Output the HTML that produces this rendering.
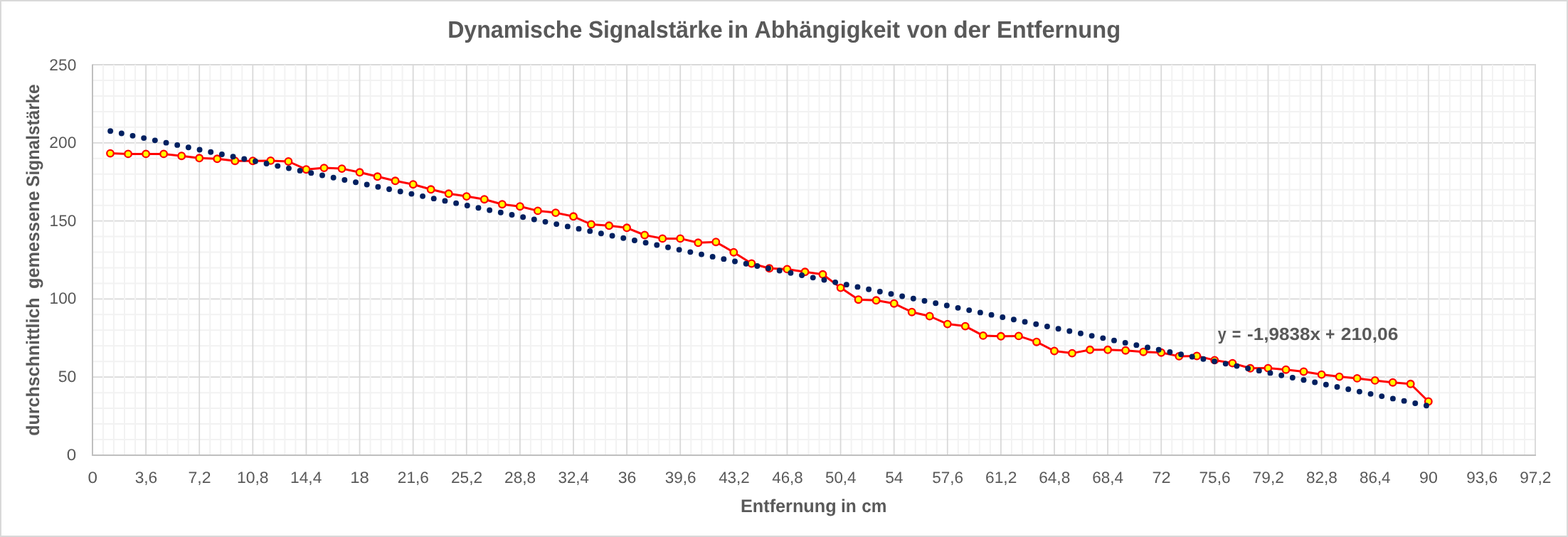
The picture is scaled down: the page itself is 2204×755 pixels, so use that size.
<!DOCTYPE html>
<html lang="de"><head><meta charset="utf-8"><title>Dynamische Signalstärke in Abhängigkeit von der Entfernung</title>
<style>
html,body{margin:0;padding:0;background:#fff;}
body{width:2204px;height:755px;overflow:hidden;}
svg{display:block;}
text{font-family:"Liberation Sans",sans-serif;fill:#595959;font-kerning:none;text-rendering:geometricPrecision;}
.b{font-weight:bold;}
</style></head><body>
<svg width="2204" height="755" viewBox="0 0 2204 755">
<rect x="0" y="0" width="2204" height="755" fill="#fff"/>
<rect x="1" y="1" width="2202" height="753" fill="none" stroke="#d9d9d9" stroke-width="2"/>

<g stroke="#f2f2f2" stroke-width="2.0" fill="none">
<line x1="130.0" y1="112.96" x2="2158.0" y2="112.96"/>
<line x1="130.0" y1="134.92" x2="2158.0" y2="134.92"/>
<line x1="130.0" y1="156.88" x2="2158.0" y2="156.88"/>
<line x1="130.0" y1="178.84" x2="2158.0" y2="178.84"/>
<line x1="130.0" y1="222.76" x2="2158.0" y2="222.76"/>
<line x1="130.0" y1="244.72" x2="2158.0" y2="244.72"/>
<line x1="130.0" y1="266.68" x2="2158.0" y2="266.68"/>
<line x1="130.0" y1="288.64" x2="2158.0" y2="288.64"/>
<line x1="130.0" y1="332.56" x2="2158.0" y2="332.56"/>
<line x1="130.0" y1="354.52" x2="2158.0" y2="354.52"/>
<line x1="130.0" y1="376.48" x2="2158.0" y2="376.48"/>
<line x1="130.0" y1="398.44" x2="2158.0" y2="398.44"/>
<line x1="130.0" y1="442.36" x2="2158.0" y2="442.36"/>
<line x1="130.0" y1="464.32" x2="2158.0" y2="464.32"/>
<line x1="130.0" y1="486.28" x2="2158.0" y2="486.28"/>
<line x1="130.0" y1="508.24" x2="2158.0" y2="508.24"/>
<line x1="130.0" y1="552.16" x2="2158.0" y2="552.16"/>
<line x1="130.0" y1="574.12" x2="2158.0" y2="574.12"/>
<line x1="130.0" y1="596.08" x2="2158.0" y2="596.08"/>
<line x1="130.0" y1="618.04" x2="2158.0" y2="618.04"/>
</g>
<g stroke="#d9d9d9" stroke-width="1.8" fill="none">
<line x1="130.0" y1="91.00" x2="2159.0" y2="91.00"/>
<line x1="130.0" y1="200.80" x2="2159.0" y2="200.80"/>
<line x1="130.0" y1="310.60" x2="2159.0" y2="310.60"/>
<line x1="130.0" y1="420.40" x2="2159.0" y2="420.40"/>
<line x1="130.0" y1="530.20" x2="2159.0" y2="530.20"/>
</g>
<g stroke="#f2f2f2" stroke-width="2.0" fill="none">
<line x1="145.02" y1="91.0" x2="145.02" y2="640.0"/>
<line x1="160.04" y1="91.0" x2="160.04" y2="640.0"/>
<line x1="175.07" y1="91.0" x2="175.07" y2="640.0"/>
<line x1="190.09" y1="91.0" x2="190.09" y2="640.0"/>
<line x1="220.13" y1="91.0" x2="220.13" y2="640.0"/>
<line x1="235.16" y1="91.0" x2="235.16" y2="640.0"/>
<line x1="250.18" y1="91.0" x2="250.18" y2="640.0"/>
<line x1="265.20" y1="91.0" x2="265.20" y2="640.0"/>
<line x1="295.24" y1="91.0" x2="295.24" y2="640.0"/>
<line x1="310.27" y1="91.0" x2="310.27" y2="640.0"/>
<line x1="325.29" y1="91.0" x2="325.29" y2="640.0"/>
<line x1="340.31" y1="91.0" x2="340.31" y2="640.0"/>
<line x1="370.36" y1="91.0" x2="370.36" y2="640.0"/>
<line x1="385.38" y1="91.0" x2="385.38" y2="640.0"/>
<line x1="400.40" y1="91.0" x2="400.40" y2="640.0"/>
<line x1="415.42" y1="91.0" x2="415.42" y2="640.0"/>
<line x1="445.47" y1="91.0" x2="445.47" y2="640.0"/>
<line x1="460.49" y1="91.0" x2="460.49" y2="640.0"/>
<line x1="475.51" y1="91.0" x2="475.51" y2="640.0"/>
<line x1="490.53" y1="91.0" x2="490.53" y2="640.0"/>
<line x1="520.58" y1="91.0" x2="520.58" y2="640.0"/>
<line x1="535.60" y1="91.0" x2="535.60" y2="640.0"/>
<line x1="550.62" y1="91.0" x2="550.62" y2="640.0"/>
<line x1="565.64" y1="91.0" x2="565.64" y2="640.0"/>
<line x1="595.69" y1="91.0" x2="595.69" y2="640.0"/>
<line x1="610.71" y1="91.0" x2="610.71" y2="640.0"/>
<line x1="625.73" y1="91.0" x2="625.73" y2="640.0"/>
<line x1="640.76" y1="91.0" x2="640.76" y2="640.0"/>
<line x1="670.80" y1="91.0" x2="670.80" y2="640.0"/>
<line x1="685.82" y1="91.0" x2="685.82" y2="640.0"/>
<line x1="700.84" y1="91.0" x2="700.84" y2="640.0"/>
<line x1="715.87" y1="91.0" x2="715.87" y2="640.0"/>
<line x1="745.91" y1="91.0" x2="745.91" y2="640.0"/>
<line x1="760.93" y1="91.0" x2="760.93" y2="640.0"/>
<line x1="775.96" y1="91.0" x2="775.96" y2="640.0"/>
<line x1="790.98" y1="91.0" x2="790.98" y2="640.0"/>
<line x1="821.02" y1="91.0" x2="821.02" y2="640.0"/>
<line x1="836.04" y1="91.0" x2="836.04" y2="640.0"/>
<line x1="851.07" y1="91.0" x2="851.07" y2="640.0"/>
<line x1="866.09" y1="91.0" x2="866.09" y2="640.0"/>
<line x1="896.13" y1="91.0" x2="896.13" y2="640.0"/>
<line x1="911.16" y1="91.0" x2="911.16" y2="640.0"/>
<line x1="926.18" y1="91.0" x2="926.18" y2="640.0"/>
<line x1="941.20" y1="91.0" x2="941.20" y2="640.0"/>
<line x1="971.24" y1="91.0" x2="971.24" y2="640.0"/>
<line x1="986.27" y1="91.0" x2="986.27" y2="640.0"/>
<line x1="1001.29" y1="91.0" x2="1001.29" y2="640.0"/>
<line x1="1016.31" y1="91.0" x2="1016.31" y2="640.0"/>
<line x1="1046.36" y1="91.0" x2="1046.36" y2="640.0"/>
<line x1="1061.38" y1="91.0" x2="1061.38" y2="640.0"/>
<line x1="1076.40" y1="91.0" x2="1076.40" y2="640.0"/>
<line x1="1091.42" y1="91.0" x2="1091.42" y2="640.0"/>
<line x1="1121.47" y1="91.0" x2="1121.47" y2="640.0"/>
<line x1="1136.49" y1="91.0" x2="1136.49" y2="640.0"/>
<line x1="1151.51" y1="91.0" x2="1151.51" y2="640.0"/>
<line x1="1166.53" y1="91.0" x2="1166.53" y2="640.0"/>
<line x1="1196.58" y1="91.0" x2="1196.58" y2="640.0"/>
<line x1="1211.60" y1="91.0" x2="1211.60" y2="640.0"/>
<line x1="1226.62" y1="91.0" x2="1226.62" y2="640.0"/>
<line x1="1241.64" y1="91.0" x2="1241.64" y2="640.0"/>
<line x1="1271.69" y1="91.0" x2="1271.69" y2="640.0"/>
<line x1="1286.71" y1="91.0" x2="1286.71" y2="640.0"/>
<line x1="1301.73" y1="91.0" x2="1301.73" y2="640.0"/>
<line x1="1316.76" y1="91.0" x2="1316.76" y2="640.0"/>
<line x1="1346.80" y1="91.0" x2="1346.80" y2="640.0"/>
<line x1="1361.82" y1="91.0" x2="1361.82" y2="640.0"/>
<line x1="1376.84" y1="91.0" x2="1376.84" y2="640.0"/>
<line x1="1391.87" y1="91.0" x2="1391.87" y2="640.0"/>
<line x1="1421.91" y1="91.0" x2="1421.91" y2="640.0"/>
<line x1="1436.93" y1="91.0" x2="1436.93" y2="640.0"/>
<line x1="1451.96" y1="91.0" x2="1451.96" y2="640.0"/>
<line x1="1466.98" y1="91.0" x2="1466.98" y2="640.0"/>
<line x1="1497.02" y1="91.0" x2="1497.02" y2="640.0"/>
<line x1="1512.04" y1="91.0" x2="1512.04" y2="640.0"/>
<line x1="1527.07" y1="91.0" x2="1527.07" y2="640.0"/>
<line x1="1542.09" y1="91.0" x2="1542.09" y2="640.0"/>
<line x1="1572.13" y1="91.0" x2="1572.13" y2="640.0"/>
<line x1="1587.16" y1="91.0" x2="1587.16" y2="640.0"/>
<line x1="1602.18" y1="91.0" x2="1602.18" y2="640.0"/>
<line x1="1617.20" y1="91.0" x2="1617.20" y2="640.0"/>
<line x1="1647.24" y1="91.0" x2="1647.24" y2="640.0"/>
<line x1="1662.27" y1="91.0" x2="1662.27" y2="640.0"/>
<line x1="1677.29" y1="91.0" x2="1677.29" y2="640.0"/>
<line x1="1692.31" y1="91.0" x2="1692.31" y2="640.0"/>
<line x1="1722.36" y1="91.0" x2="1722.36" y2="640.0"/>
<line x1="1737.38" y1="91.0" x2="1737.38" y2="640.0"/>
<line x1="1752.40" y1="91.0" x2="1752.40" y2="640.0"/>
<line x1="1767.42" y1="91.0" x2="1767.42" y2="640.0"/>
<line x1="1797.47" y1="91.0" x2="1797.47" y2="640.0"/>
<line x1="1812.49" y1="91.0" x2="1812.49" y2="640.0"/>
<line x1="1827.51" y1="91.0" x2="1827.51" y2="640.0"/>
<line x1="1842.53" y1="91.0" x2="1842.53" y2="640.0"/>
<line x1="1872.58" y1="91.0" x2="1872.58" y2="640.0"/>
<line x1="1887.60" y1="91.0" x2="1887.60" y2="640.0"/>
<line x1="1902.62" y1="91.0" x2="1902.62" y2="640.0"/>
<line x1="1917.64" y1="91.0" x2="1917.64" y2="640.0"/>
<line x1="1947.69" y1="91.0" x2="1947.69" y2="640.0"/>
<line x1="1962.71" y1="91.0" x2="1962.71" y2="640.0"/>
<line x1="1977.73" y1="91.0" x2="1977.73" y2="640.0"/>
<line x1="1992.76" y1="91.0" x2="1992.76" y2="640.0"/>
<line x1="2022.80" y1="91.0" x2="2022.80" y2="640.0"/>
<line x1="2037.82" y1="91.0" x2="2037.82" y2="640.0"/>
<line x1="2052.84" y1="91.0" x2="2052.84" y2="640.0"/>
<line x1="2067.87" y1="91.0" x2="2067.87" y2="640.0"/>
<line x1="2097.91" y1="91.0" x2="2097.91" y2="640.0"/>
<line x1="2112.93" y1="91.0" x2="2112.93" y2="640.0"/>
<line x1="2127.96" y1="91.0" x2="2127.96" y2="640.0"/>
<line x1="2142.98" y1="91.0" x2="2142.98" y2="640.0"/>
</g>
<g stroke="#d9d9d9" stroke-width="1.8" fill="none">
<line x1="205.11" y1="90.1" x2="205.11" y2="640.0"/>
<line x1="280.22" y1="90.1" x2="280.22" y2="640.0"/>
<line x1="355.33" y1="90.1" x2="355.33" y2="640.0"/>
<line x1="430.44" y1="90.1" x2="430.44" y2="640.0"/>
<line x1="505.56" y1="90.1" x2="505.56" y2="640.0"/>
<line x1="580.67" y1="90.1" x2="580.67" y2="640.0"/>
<line x1="655.78" y1="90.1" x2="655.78" y2="640.0"/>
<line x1="730.89" y1="90.1" x2="730.89" y2="640.0"/>
<line x1="806.00" y1="90.1" x2="806.00" y2="640.0"/>
<line x1="881.11" y1="90.1" x2="881.11" y2="640.0"/>
<line x1="956.22" y1="90.1" x2="956.22" y2="640.0"/>
<line x1="1031.33" y1="90.1" x2="1031.33" y2="640.0"/>
<line x1="1106.44" y1="90.1" x2="1106.44" y2="640.0"/>
<line x1="1181.56" y1="90.1" x2="1181.56" y2="640.0"/>
<line x1="1256.67" y1="90.1" x2="1256.67" y2="640.0"/>
<line x1="1331.78" y1="90.1" x2="1331.78" y2="640.0"/>
<line x1="1406.89" y1="90.1" x2="1406.89" y2="640.0"/>
<line x1="1482.00" y1="90.1" x2="1482.00" y2="640.0"/>
<line x1="1557.11" y1="90.1" x2="1557.11" y2="640.0"/>
<line x1="1632.22" y1="90.1" x2="1632.22" y2="640.0"/>
<line x1="1707.33" y1="90.1" x2="1707.33" y2="640.0"/>
<line x1="1782.44" y1="90.1" x2="1782.44" y2="640.0"/>
<line x1="1857.56" y1="90.1" x2="1857.56" y2="640.0"/>
<line x1="1932.67" y1="90.1" x2="1932.67" y2="640.0"/>
<line x1="2007.78" y1="90.1" x2="2007.78" y2="640.0"/>
<line x1="2082.89" y1="90.1" x2="2082.89" y2="640.0"/>
<line x1="2158.00" y1="90.1" x2="2158.00" y2="640.0"/>
</g>
<path d="M130.0 90.5 V640.0 H2159.0" stroke="#bfbfbf" stroke-width="2" fill="none" stroke-linejoin="miter"/>
<polyline fill="none" stroke="#ff0000" stroke-width="3.0" stroke-linejoin="round" stroke-linecap="round" points="155.0,215.6 180.1,216.4 205.1,216.4 230.1,216.4 255.2,219.2 280.2,222.3 305.3,223.3 330.3,226.2 355.3,226.2 380.4,225.9 405.4,227.0 430.4,238.2 455.5,236.1 480.5,237.1 505.6,242.3 530.6,248.3 555.6,254.3 580.7,259.2 605.7,266.3 630.7,272.3 655.8,276.1 680.8,280.2 705.9,287.2 730.9,290.2 755.9,296.4 781.0,299.1 806.0,304.3 831.0,315.5 856.1,317.3 881.1,320.3 906.1,330.5 931.2,335.4 956.2,335.4 981.3,341.3 1006.3,340.2 1031.3,354.7 1056.4,370.5 1081.4,377.3 1106.4,378.4 1131.5,382.3 1156.5,385.8 1181.6,404.6 1206.6,421.2 1231.6,422.3 1256.7,426.7 1281.7,438.7 1306.7,444.5 1331.8,455.6 1356.8,458.6 1381.9,471.9 1406.9,472.8 1431.9,472.4 1457.0,480.7 1482.0,493.5 1507.0,496.6 1532.1,491.8 1557.1,491.8 1582.1,492.7 1607.2,494.7 1632.2,495.7 1657.3,500.9 1682.3,500.5 1707.3,506.4 1732.4,510.6 1757.4,517.8 1782.4,517.6 1807.5,519.7 1832.5,522.5 1857.6,526.6 1882.6,529.6 1907.6,531.9 1932.7,534.9 1957.7,537.7 1982.7,539.8 2007.8,564.5"/>
<g fill="#ffff00" stroke="#ff0000" stroke-width="2.3">
<circle cx="155.0" cy="215.6" r="4.8"/>
<circle cx="180.1" cy="216.4" r="4.8"/>
<circle cx="205.1" cy="216.4" r="4.8"/>
<circle cx="230.1" cy="216.4" r="4.8"/>
<circle cx="255.2" cy="219.2" r="4.8"/>
<circle cx="280.2" cy="222.3" r="4.8"/>
<circle cx="305.3" cy="223.3" r="4.8"/>
<circle cx="330.3" cy="226.2" r="4.8"/>
<circle cx="355.3" cy="226.2" r="4.8"/>
<circle cx="380.4" cy="225.9" r="4.8"/>
<circle cx="405.4" cy="227.0" r="4.8"/>
<circle cx="430.4" cy="238.2" r="4.8"/>
<circle cx="455.5" cy="236.1" r="4.8"/>
<circle cx="480.5" cy="237.1" r="4.8"/>
<circle cx="505.6" cy="242.3" r="4.8"/>
<circle cx="530.6" cy="248.3" r="4.8"/>
<circle cx="555.6" cy="254.3" r="4.8"/>
<circle cx="580.7" cy="259.2" r="4.8"/>
<circle cx="605.7" cy="266.3" r="4.8"/>
<circle cx="630.7" cy="272.3" r="4.8"/>
<circle cx="655.8" cy="276.1" r="4.8"/>
<circle cx="680.8" cy="280.2" r="4.8"/>
<circle cx="705.9" cy="287.2" r="4.8"/>
<circle cx="730.9" cy="290.2" r="4.8"/>
<circle cx="755.9" cy="296.4" r="4.8"/>
<circle cx="781.0" cy="299.1" r="4.8"/>
<circle cx="806.0" cy="304.3" r="4.8"/>
<circle cx="831.0" cy="315.5" r="4.8"/>
<circle cx="856.1" cy="317.3" r="4.8"/>
<circle cx="881.1" cy="320.3" r="4.8"/>
<circle cx="906.1" cy="330.5" r="4.8"/>
<circle cx="931.2" cy="335.4" r="4.8"/>
<circle cx="956.2" cy="335.4" r="4.8"/>
<circle cx="981.3" cy="341.3" r="4.8"/>
<circle cx="1006.3" cy="340.2" r="4.8"/>
<circle cx="1031.3" cy="354.7" r="4.8"/>
<circle cx="1056.4" cy="370.5" r="4.8"/>
<circle cx="1081.4" cy="377.3" r="4.8"/>
<circle cx="1106.4" cy="378.4" r="4.8"/>
<circle cx="1131.5" cy="382.3" r="4.8"/>
<circle cx="1156.5" cy="385.8" r="4.8"/>
<circle cx="1181.6" cy="404.6" r="4.8"/>
<circle cx="1206.6" cy="421.2" r="4.8"/>
<circle cx="1231.6" cy="422.3" r="4.8"/>
<circle cx="1256.7" cy="426.7" r="4.8"/>
<circle cx="1281.7" cy="438.7" r="4.8"/>
<circle cx="1306.7" cy="444.5" r="4.8"/>
<circle cx="1331.8" cy="455.6" r="4.8"/>
<circle cx="1356.8" cy="458.6" r="4.8"/>
<circle cx="1381.9" cy="471.9" r="4.8"/>
<circle cx="1406.9" cy="472.8" r="4.8"/>
<circle cx="1431.9" cy="472.4" r="4.8"/>
<circle cx="1457.0" cy="480.7" r="4.8"/>
<circle cx="1482.0" cy="493.5" r="4.8"/>
<circle cx="1507.0" cy="496.6" r="4.8"/>
<circle cx="1532.1" cy="491.8" r="4.8"/>
<circle cx="1557.1" cy="491.8" r="4.8"/>
<circle cx="1582.1" cy="492.7" r="4.8"/>
<circle cx="1607.2" cy="494.7" r="4.8"/>
<circle cx="1632.2" cy="495.7" r="4.8"/>
<circle cx="1657.3" cy="500.9" r="4.8"/>
<circle cx="1682.3" cy="500.5" r="4.8"/>
<circle cx="1707.3" cy="506.4" r="4.8"/>
<circle cx="1732.4" cy="510.6" r="4.8"/>
<circle cx="1757.4" cy="517.8" r="4.8"/>
<circle cx="1782.4" cy="517.6" r="4.8"/>
<circle cx="1807.5" cy="519.7" r="4.8"/>
<circle cx="1832.5" cy="522.5" r="4.8"/>
<circle cx="1857.6" cy="526.6" r="4.8"/>
<circle cx="1882.6" cy="529.6" r="4.8"/>
<circle cx="1907.6" cy="531.9" r="4.8"/>
<circle cx="1932.7" cy="534.9" r="4.8"/>
<circle cx="1957.7" cy="537.7" r="4.8"/>
<circle cx="1982.7" cy="539.8" r="4.8"/>
<circle cx="2007.8" cy="564.5" r="4.8"/>
</g>
<g fill="#002060">
<circle cx="155.14" cy="184.29" r="3.95"/>
<circle cx="170.81" cy="187.56" r="3.95"/>
<circle cx="186.49" cy="190.83" r="3.95"/>
<circle cx="202.17" cy="194.10" r="3.95"/>
<circle cx="217.84" cy="197.37" r="3.95"/>
<circle cx="233.52" cy="200.64" r="3.95"/>
<circle cx="249.19" cy="203.91" r="3.95"/>
<circle cx="264.87" cy="207.18" r="3.95"/>
<circle cx="280.55" cy="210.45" r="3.95"/>
<circle cx="296.22" cy="213.72" r="3.95"/>
<circle cx="311.90" cy="216.99" r="3.95"/>
<circle cx="327.58" cy="220.26" r="3.95"/>
<circle cx="343.25" cy="223.53" r="3.95"/>
<circle cx="358.93" cy="226.80" r="3.95"/>
<circle cx="374.60" cy="230.07" r="3.95"/>
<circle cx="390.28" cy="233.34" r="3.95"/>
<circle cx="405.96" cy="236.61" r="3.95"/>
<circle cx="421.63" cy="239.88" r="3.95"/>
<circle cx="437.31" cy="243.16" r="3.95"/>
<circle cx="452.99" cy="246.43" r="3.95"/>
<circle cx="468.66" cy="249.70" r="3.95"/>
<circle cx="484.34" cy="252.97" r="3.95"/>
<circle cx="500.01" cy="256.24" r="3.95"/>
<circle cx="515.69" cy="259.51" r="3.95"/>
<circle cx="531.37" cy="262.78" r="3.95"/>
<circle cx="547.04" cy="266.05" r="3.95"/>
<circle cx="562.72" cy="269.32" r="3.95"/>
<circle cx="578.40" cy="272.59" r="3.95"/>
<circle cx="594.07" cy="275.86" r="3.95"/>
<circle cx="609.75" cy="279.13" r="3.95"/>
<circle cx="625.42" cy="282.40" r="3.95"/>
<circle cx="641.10" cy="285.67" r="3.95"/>
<circle cx="656.78" cy="288.94" r="3.95"/>
<circle cx="672.45" cy="292.21" r="3.95"/>
<circle cx="688.13" cy="295.48" r="3.95"/>
<circle cx="703.81" cy="298.75" r="3.95"/>
<circle cx="719.48" cy="302.02" r="3.95"/>
<circle cx="735.16" cy="305.29" r="3.95"/>
<circle cx="750.83" cy="308.57" r="3.95"/>
<circle cx="766.51" cy="311.84" r="3.95"/>
<circle cx="782.19" cy="315.11" r="3.95"/>
<circle cx="797.86" cy="318.38" r="3.95"/>
<circle cx="813.54" cy="321.65" r="3.95"/>
<circle cx="829.22" cy="324.92" r="3.95"/>
<circle cx="844.89" cy="328.19" r="3.95"/>
<circle cx="860.57" cy="331.46" r="3.95"/>
<circle cx="876.24" cy="334.73" r="3.95"/>
<circle cx="891.92" cy="338.00" r="3.95"/>
<circle cx="907.60" cy="341.27" r="3.95"/>
<circle cx="923.27" cy="344.54" r="3.95"/>
<circle cx="938.95" cy="347.81" r="3.95"/>
<circle cx="954.62" cy="351.08" r="3.95"/>
<circle cx="970.30" cy="354.35" r="3.95"/>
<circle cx="985.98" cy="357.62" r="3.95"/>
<circle cx="1001.65" cy="360.89" r="3.95"/>
<circle cx="1017.33" cy="364.16" r="3.95"/>
<circle cx="1033.01" cy="367.43" r="3.95"/>
<circle cx="1048.68" cy="370.70" r="3.95"/>
<circle cx="1064.36" cy="373.98" r="3.95"/>
<circle cx="1080.03" cy="377.25" r="3.95"/>
<circle cx="1095.71" cy="380.52" r="3.95"/>
<circle cx="1111.39" cy="383.79" r="3.95"/>
<circle cx="1127.06" cy="387.06" r="3.95"/>
<circle cx="1142.74" cy="390.33" r="3.95"/>
<circle cx="1158.42" cy="393.60" r="3.95"/>
<circle cx="1174.09" cy="396.87" r="3.95"/>
<circle cx="1189.77" cy="400.14" r="3.95"/>
<circle cx="1205.44" cy="403.41" r="3.95"/>
<circle cx="1221.12" cy="406.68" r="3.95"/>
<circle cx="1236.80" cy="409.95" r="3.95"/>
<circle cx="1252.47" cy="413.22" r="3.95"/>
<circle cx="1268.15" cy="416.49" r="3.95"/>
<circle cx="1283.83" cy="419.76" r="3.95"/>
<circle cx="1299.50" cy="423.03" r="3.95"/>
<circle cx="1315.18" cy="426.30" r="3.95"/>
<circle cx="1330.85" cy="429.57" r="3.95"/>
<circle cx="1346.53" cy="432.84" r="3.95"/>
<circle cx="1362.21" cy="436.11" r="3.95"/>
<circle cx="1377.88" cy="439.39" r="3.95"/>
<circle cx="1393.56" cy="442.66" r="3.95"/>
<circle cx="1409.24" cy="445.93" r="3.95"/>
<circle cx="1424.91" cy="449.20" r="3.95"/>
<circle cx="1440.59" cy="452.47" r="3.95"/>
<circle cx="1456.26" cy="455.74" r="3.95"/>
<circle cx="1471.94" cy="459.01" r="3.95"/>
<circle cx="1487.62" cy="462.28" r="3.95"/>
<circle cx="1503.29" cy="465.55" r="3.95"/>
<circle cx="1518.97" cy="468.82" r="3.95"/>
<circle cx="1534.65" cy="472.09" r="3.95"/>
<circle cx="1550.32" cy="475.36" r="3.95"/>
<circle cx="1566.00" cy="478.63" r="3.95"/>
<circle cx="1581.67" cy="481.90" r="3.95"/>
<circle cx="1597.35" cy="485.17" r="3.95"/>
<circle cx="1613.03" cy="488.44" r="3.95"/>
<circle cx="1628.70" cy="491.71" r="3.95"/>
<circle cx="1644.38" cy="494.98" r="3.95"/>
<circle cx="1660.06" cy="498.25" r="3.95"/>
<circle cx="1675.73" cy="501.52" r="3.95"/>
<circle cx="1691.41" cy="504.80" r="3.95"/>
<circle cx="1707.08" cy="508.07" r="3.95"/>
<circle cx="1722.76" cy="511.34" r="3.95"/>
<circle cx="1738.44" cy="514.61" r="3.95"/>
<circle cx="1754.11" cy="517.88" r="3.95"/>
<circle cx="1769.79" cy="521.15" r="3.95"/>
<circle cx="1785.47" cy="524.42" r="3.95"/>
<circle cx="1801.14" cy="527.69" r="3.95"/>
<circle cx="1816.82" cy="530.96" r="3.95"/>
<circle cx="1832.49" cy="534.23" r="3.95"/>
<circle cx="1848.17" cy="537.50" r="3.95"/>
<circle cx="1863.85" cy="540.77" r="3.95"/>
<circle cx="1879.52" cy="544.04" r="3.95"/>
<circle cx="1895.20" cy="547.31" r="3.95"/>
<circle cx="1910.88" cy="550.58" r="3.95"/>
<circle cx="1926.55" cy="553.85" r="3.95"/>
<circle cx="1942.23" cy="557.12" r="3.95"/>
<circle cx="1957.90" cy="560.39" r="3.95"/>
<circle cx="1973.58" cy="563.66" r="3.95"/>
<circle cx="1989.26" cy="566.93" r="3.95"/>
<circle cx="2004.93" cy="570.21" r="3.95"/>
</g>
<g font-size="22.6">
<text x="69.35" y="99" textLength="37.94" lengthAdjust="spacingAndGlyphs">250</text>
<text x="69.35" y="208" textLength="37.94" lengthAdjust="spacingAndGlyphs">200</text>
<text x="69.57" y="318" textLength="37.71" lengthAdjust="spacingAndGlyphs">150</text>
<text x="69.57" y="427" textLength="37.71" lengthAdjust="spacingAndGlyphs">100</text>
<text x="81.74" y="537" textLength="25.56" lengthAdjust="spacingAndGlyphs">50</text>
<text x="93.88" y="647" textLength="13.46" lengthAdjust="spacingAndGlyphs">0</text>
<text x="123.57" y="678.7" textLength="13.46" lengthAdjust="spacingAndGlyphs">0</text>
<text x="189.68" y="678.7" textLength="31.60" lengthAdjust="spacingAndGlyphs">3,6</text>
<text x="264.47" y="678.7" textLength="32.08" lengthAdjust="spacingAndGlyphs">7,2</text>
<text x="332.93" y="678.7" textLength="44.65" lengthAdjust="spacingAndGlyphs">10,8</text>
<text x="408.06" y="678.7" textLength="44.31" lengthAdjust="spacingAndGlyphs">14,4</text>
<text x="492.16" y="678.7" textLength="26.60" lengthAdjust="spacingAndGlyphs">18</text>
<text x="558.87" y="678.7" textLength="44.04" lengthAdjust="spacingAndGlyphs">21,6</text>
<text x="633.98" y="678.7" textLength="44.19" lengthAdjust="spacingAndGlyphs">25,2</text>
<text x="709.10" y="678.7" textLength="44.03" lengthAdjust="spacingAndGlyphs">28,8</text>
<text x="784.50" y="678.7" textLength="43.41" lengthAdjust="spacingAndGlyphs">32,4</text>
<text x="868.66" y="678.7" textLength="25.63" lengthAdjust="spacingAndGlyphs">36</text>
<text x="934.71" y="678.7" textLength="43.75" lengthAdjust="spacingAndGlyphs">39,6</text>
<text x="1010.16" y="678.7" textLength="43.55" lengthAdjust="spacingAndGlyphs">43,2</text>
<text x="1085.28" y="678.7" textLength="43.39" lengthAdjust="spacingAndGlyphs">46,8</text>
<text x="1160.01" y="678.7" textLength="43.46" lengthAdjust="spacingAndGlyphs">50,4</text>
<text x="1244.19" y="678.7" textLength="25.32" lengthAdjust="spacingAndGlyphs">54</text>
<text x="1310.22" y="678.7" textLength="43.80" lengthAdjust="spacingAndGlyphs">57,6</text>
<text x="1385.08" y="678.7" textLength="44.21" lengthAdjust="spacingAndGlyphs">61,2</text>
<text x="1460.20" y="678.7" textLength="44.04" lengthAdjust="spacingAndGlyphs">64,8</text>
<text x="1535.32" y="678.7" textLength="43.71" lengthAdjust="spacingAndGlyphs">68,4</text>
<text x="1619.45" y="678.7" textLength="26.13" lengthAdjust="spacingAndGlyphs">72</text>
<text x="1685.52" y="678.7" textLength="44.07" lengthAdjust="spacingAndGlyphs">75,6</text>
<text x="1760.62" y="678.7" textLength="44.22" lengthAdjust="spacingAndGlyphs">79,2</text>
<text x="1835.92" y="678.7" textLength="43.87" lengthAdjust="spacingAndGlyphs">82,8</text>
<text x="1911.04" y="678.7" textLength="43.54" lengthAdjust="spacingAndGlyphs">86,4</text>
<text x="1995.12" y="678.7" textLength="25.73" lengthAdjust="spacingAndGlyphs">90</text>
<text x="2061.18" y="678.7" textLength="43.96" lengthAdjust="spacingAndGlyphs">93,6</text>
<text x="2136.28" y="678.7" textLength="44.11" lengthAdjust="spacingAndGlyphs">97,2</text>
</g>
<text class="b" font-size="33.5" xml:space="preserve"><tspan x="629.15" y="52.9" textLength="189.14" lengthAdjust="spacingAndGlyphs">Dynamische</tspan> <tspan x="826.89" y="52.9" textLength="188.70" lengthAdjust="spacingAndGlyphs">Signalstärke</tspan> <tspan x="1022.81" y="52.9" textLength="29.12" lengthAdjust="spacingAndGlyphs">in</tspan> <tspan x="1060.50" y="52.9" textLength="204.60" lengthAdjust="spacingAndGlyphs">Abhängigkeit</tspan> <tspan x="1274.77" y="52.9" textLength="57.01" lengthAdjust="spacingAndGlyphs">von</tspan> <tspan x="1340.13" y="52.9" textLength="51.98" lengthAdjust="spacingAndGlyphs">der</tspan> <tspan x="1401.02" y="52.9" textLength="174.07" lengthAdjust="spacingAndGlyphs">Entfernung</tspan></text>
<text class="b" font-size="25.6" xml:space="preserve"><tspan x="1041.01" y="720.0" textLength="134.58" lengthAdjust="spacingAndGlyphs">Entfernung</tspan> <tspan x="1181.99" y="720.0" textLength="21.72" lengthAdjust="spacingAndGlyphs">in</tspan> <tspan x="1211.15" y="720.0" textLength="35.16" lengthAdjust="spacingAndGlyphs">cm</tspan></text>
<text class="b" font-size="24.6" xml:space="preserve"><tspan x="1711.73" y="478.0" textLength="11.98" lengthAdjust="spacingAndGlyphs">y</tspan> <tspan x="1731.71" y="478.0" textLength="12.58" lengthAdjust="spacingAndGlyphs">=</tspan> <tspan x="1753.08" y="478.0" textLength="102.81" lengthAdjust="spacingAndGlyphs">-1,9838x</tspan> <tspan x="1862.94" y="478.0" textLength="13.39" lengthAdjust="spacingAndGlyphs">+</tspan> <tspan x="1884.79" y="478.0" textLength="80.67" lengthAdjust="spacingAndGlyphs">210,06</tspan></text>
<g transform="translate(55.0 612.1) rotate(-90)"><text class="b" font-size="25.6" xml:space="preserve"><tspan x="-0.62" y="0" textLength="194.27" lengthAdjust="spacingAndGlyphs">durchschnittlich</tspan>  <tspan x="206.16" y="0" textLength="137.60" lengthAdjust="spacingAndGlyphs">gemessene</tspan> <tspan x="349.40" y="0" textLength="144.33" lengthAdjust="spacingAndGlyphs">Signalstärke</tspan></text></g>
</svg>
</body></html>
